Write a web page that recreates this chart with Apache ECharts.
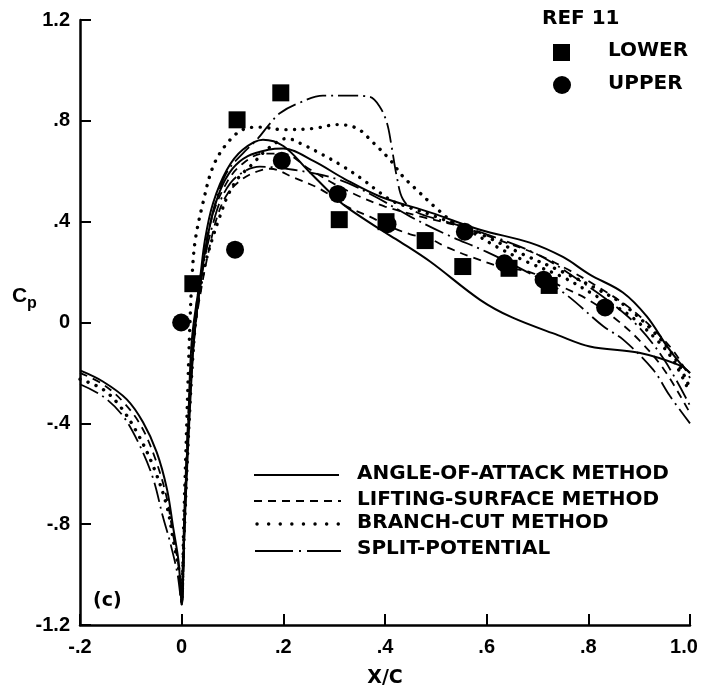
<!DOCTYPE html>
<html>
<head>
<meta charset="utf-8">
<script src="https://cdn.jsdelivr.net/npm/echarts@6/dist/echarts.min.js"></script>
<style>
  html, body { margin: 0; padding: 0; background: #fff; }
  #chart { width: 701px; height: 689px; }
</style>
</head>
<body>
<div id="chart"></div>
<script>
// tick labels
var xTicks = ['-.2', '0', '.2', '.4', '.6', '.8', '1.0']
var yTicks = ['-1.2', '-.8', '-.4', '0', '.4', '.8', '1.2']

// REF 11 measured points
var lowerPts = [[0.022, 0.154], [0.109, 0.804], [0.195, 0.911], [0.31, 0.408], [0.402, 0.40],
  [0.479, 0.325], [0.553, 0.222], [0.644, 0.215], [0.723, 0.147]]
var upperPts = [[-0.001, 0.0], [0.105, 0.289], [0.197, 0.642], [0.307, 0.51], [0.405, 0.39],
  [0.557, 0.36], [0.635, 0.235], [0.712, 0.17], [0.833, 0.06]]

// angle-of-attack method (solid)
var solidFront = [[-0.2, -0.19], [-0.155, -0.234], [-0.108, -0.305], [-0.076, -0.396], [-0.049, -0.515],
  [-0.029, -0.66], [-0.017, -0.81], [-0.006, -0.95], [0, -1.12]]
var solidA = [[0.006, -0.75], [0.013, -0.4], [0.02, -0.07], [0.036, 0.17], [0.046, 0.33], [0.062, 0.475],
  [0.089, 0.606], [0.12, 0.685], [0.16, 0.725], [0.2, 0.70], [0.25, 0.60], [0.305, 0.49], [0.33, 0.45],
  [0.39, 0.37], [0.43, 0.32], [0.49, 0.24], [0.587, 0.09], [0.65, 0.02], [0.74, -0.05], [0.803, -0.095],
  [0.9, -0.12], [0.98, -0.17], [1.0, -0.2]]
var solidB = [[0, -1.12], [0.008, -0.7], [0.016, -0.35], [0.025, -0.05], [0.04, 0.2], [0.055, 0.38],
  [0.075, 0.52], [0.1, 0.61], [0.13, 0.66], [0.17, 0.685], [0.2, 0.69], [0.26, 0.64], [0.32, 0.57],
  [0.39, 0.50], [0.49, 0.436], [0.587, 0.368], [0.685, 0.317], [0.75, 0.26], [0.803, 0.19],
  [0.868, 0.119], [0.915, 0.024], [0.955, -0.095], [0.98, -0.16], [1.0, -0.2]]

// lifting-surface method (dashed)
var dashFront = [[-0.2, -0.2], [-0.155, -0.245], [-0.115, -0.315], [-0.08, -0.41], [-0.052, -0.54],
  [-0.03, -0.69], [-0.017, -0.84], [-0.006, -0.97], [0, -1.11]]
var dashA = [[0.005, -0.8], [0.015, -0.35], [0.025, -0.05], [0.04, 0.15], [0.055, 0.3], [0.07, 0.42],
  [0.09, 0.51], [0.12, 0.57], [0.15, 0.60], [0.174, 0.61], [0.22, 0.575], [0.272, 0.53], [0.325, 0.46],
  [0.37, 0.42], [0.41, 0.38], [0.45, 0.35], [0.49, 0.33], [0.52, 0.30], [0.57, 0.26], [0.63, 0.22],
  [0.685, 0.20], [0.75, 0.14], [0.8, 0.09], [0.85, 0.02], [0.9, -0.07], [0.95, -0.19], [1.0, -0.36]]
var dashB = [[0, -1.11], [0.009, -0.6], [0.017, -0.25], [0.025, 0.0], [0.04, 0.22], [0.06, 0.42],
  [0.09, 0.56], [0.12, 0.63], [0.16, 0.67], [0.2, 0.67], [0.25, 0.61], [0.3, 0.55], [0.35, 0.5],
  [0.4, 0.46], [0.47, 0.42], [0.55, 0.38], [0.62, 0.33], [0.7, 0.27], [0.76, 0.21], [0.82, 0.14],
  [0.88, 0.06], [0.93, -0.03], [0.97, -0.12], [1.0, -0.22]]

// branch-cut method (dotted)
var dotFront = [[-0.2, -0.225], [-0.155, -0.265], [-0.121, -0.333], [-0.088, -0.436], [-0.056, -0.57],
  [-0.029, -0.73], [-0.016, -0.87], [-0.004, -1.0], [0, -1.1]]
var dotA = [[0.004, -0.8], [0.01, -0.4], [0.016, -0.02], [0.021, 0.2], [0.027, 0.33], [0.042, 0.475],
  [0.062, 0.62], [0.089, 0.71], [0.12, 0.765], [0.154, 0.775], [0.2, 0.765], [0.26, 0.77], [0.306, 0.785],
  [0.345, 0.77], [0.376, 0.715], [0.41, 0.645], [0.435, 0.58], [0.463, 0.525], [0.5, 0.455], [0.534, 0.4],
  [0.6, 0.34], [0.672, 0.27], [0.75, 0.2], [0.82, 0.13], [0.87, 0.07], [0.93, -0.04], [0.97, -0.14], [1.0, -0.26]]
var dotB = [[0, -1.1], [0.01, -0.6], [0.02, -0.2], [0.03, 0.05], [0.045, 0.22], [0.06, 0.33], [0.075, 0.42],
  [0.09, 0.5], [0.11, 0.57], [0.14, 0.63], [0.17, 0.69], [0.207, 0.73], [0.239, 0.705], [0.278, 0.665],
  [0.317, 0.62], [0.357, 0.566], [0.39, 0.515], [0.416, 0.48], [0.443, 0.46], [0.5, 0.42], [0.56, 0.37],
  [0.62, 0.3], [0.68, 0.24], [0.75, 0.18], [0.82, 0.1], [0.88, 0.03], [0.94, -0.08], [0.97, -0.16], [1.0, -0.28]]

// split-potential (dash-dot)
var ddFront = [[-0.2, -0.245], [-0.155, -0.293], [-0.115, -0.372], [-0.082, -0.49], [-0.056, -0.62],
  [-0.037, -0.77], [-0.023, -0.87], [-0.008, -1.0], [0, -1.12]]
var ddA = [[0.006, -0.8], [0.014, -0.4], [0.024, -0.08], [0.04, 0.2], [0.055, 0.38], [0.07, 0.5],
  [0.09, 0.6], [0.12, 0.67], [0.15, 0.73], [0.17, 0.78], [0.193, 0.83], [0.23, 0.87], [0.278, 0.9],
  [0.33, 0.9], [0.37, 0.895], [0.39, 0.855], [0.404, 0.79], [0.412, 0.71], [0.424, 0.57], [0.435, 0.49],
  [0.46, 0.44], [0.52, 0.4], [0.6, 0.35], [0.7, 0.27], [0.78, 0.17], [0.85, 0.07], [0.9, -0.02],
  [0.95, -0.15], [1.0, -0.33]]
var ddB = [[0, -1.12], [0.008, -0.6], [0.018, -0.2], [0.03, 0.05], [0.045, 0.25], [0.06, 0.38], [0.08, 0.5],
  [0.109, 0.58], [0.154, 0.618], [0.22, 0.606], [0.31, 0.566], [0.38, 0.5], [0.45, 0.42], [0.52, 0.35],
  [0.6, 0.28], [0.68, 0.2], [0.75, 0.12], [0.83, -0.016], [0.868, -0.067], [0.927, -0.186], [0.96, -0.29],
  [1.0, -0.4]]

var SOLID = { type: 'solid', width: 2 }
var DASH = { type: [8, 6], width: 1.8 }
var DOT = { type: [0.1, 8.5], width: 3.4, cap: 'round' }
var DASHDOT = { type: [20, 5, 2, 5], width: 1.8 }

function curve (data, style) {
  return {
    type: 'line',
    data: data,
    showSymbol: false,
    smooth: 0.35,
    lineStyle: Object.assign({ color: '#000' }, style),
    z: 2
  }
}

var tickFont = { fontFamily: 'Liberation Sans', fontWeight: 'bold', fontSize: 20, color: '#000' }
var legFont = 'bold 20px "DejaVu Sans"'

var myChart = echarts.init(document.getElementById('chart'))
myChart.setOption({
  animation: false,
  backgroundColor: '#fff',
  grid: { left: 80, right: 11, top: 20, bottom: 64, outerBoundsMode: 'none' },
  xAxis: {
    type: 'value',
    min: -0.2,
    max: 1.0,
    interval: 0.2,
    name: 'X/C',
    nameLocation: 'middle',
    nameGap: 44,
    nameTextStyle: { fontFamily: 'DejaVu Sans', fontWeight: 'bold', fontSize: 19, color: '#000' },
    axisLine: { onZero: false, lineStyle: { color: '#000', width: 2.5 } },
    axisTick: { inside: true, length: 11, lineStyle: { color: '#000', width: 2 } },
    axisLabel: Object.assign({
      margin: 12,
      formatter: function (v, i) {
        return i === xTicks.length - 1 ? '{last|' + xTicks[i] + '}' : xTicks[i]
      },
      rich: { last: Object.assign({ padding: [0, 12, 0, 0] }, tickFont) }
    }, tickFont),
    splitLine: { show: false }
  },
  yAxis: {
    type: 'value',
    min: -1.2,
    max: 1.2,
    interval: 0.4,
    axisLine: { onZero: false, lineStyle: { color: '#000', width: 2.5 } },
    axisTick: { inside: true, length: 11, lineStyle: { color: '#000', width: 2 } },
    axisLabel: Object.assign({ margin: 10, formatter: function (v, i) { return yTicks[i] } }, tickFont),
    splitLine: { show: false }
  },
  series: [
    curve(solidFront.concat(solidA), SOLID),
    curve(solidB, SOLID),
    curve(dashFront.concat(dashA), DASH),
    curve(dashB, DASH),
    curve(dotFront.concat(dotA), DOT),
    curve(dotB, DOT),
    curve(ddFront.concat(ddA), DASHDOT),
    curve(ddB, DASHDOT),
    {
      type: 'scatter',
      data: lowerPts,
      symbol: 'rect',
      symbolSize: 17,
      itemStyle: { color: '#000', opacity: 1 },
      z: 5
    },
    {
      type: 'scatter',
      data: upperPts,
      symbol: 'circle',
      symbolSize: 18,
      itemStyle: { color: '#000', opacity: 1 },
      z: 5
    }
  ],
  graphic: [
    // Cp label
    { type: 'text', left: 12, top: 286, style: { text: 'C', font: 'bold 21px "Liberation Sans"', fill: '#000' } },
    { type: 'text', left: 27, top: 296, style: { text: 'p', font: 'bold 16px "Liberation Sans"', fill: '#000' } },
    // (c)
    { type: 'text', left: 93, top: 592, style: { text: '(c)', font: 'bold 19px "DejaVu Sans"', fill: '#000' } },
    // REF 11 key
    { type: 'text', left: 542, top: 9, style: { text: 'REF 11', font: legFont, fill: '#000' } },
    { type: 'rect', shape: { x: 553, y: 44, width: 17, height: 17 }, style: { fill: '#000' } },
    { type: 'text', left: 608, top: 41, style: { text: 'LOWER', font: legFont, fill: '#000' } },
    { type: 'circle', shape: { cx: 562, cy: 85, r: 9 }, style: { fill: '#000' } },
    { type: 'text', left: 608, top: 74, style: { text: 'UPPER', font: legFont, fill: '#000' } },
    // method key
    { type: 'line', shape: { x1: 254, y1: 475, x2: 339, y2: 475 }, style: { stroke: '#000', lineWidth: 2 } },
    { type: 'line', shape: { x1: 254, y1: 501, x2: 341, y2: 501 }, style: { stroke: '#000', lineWidth: 1.8, lineDash: [8, 6] } },
    { type: 'line', shape: { x1: 257, y1: 524, x2: 341, y2: 524 }, style: { stroke: '#000', lineWidth: 3.4, lineDash: [0.1, 11.5], lineCap: 'round' } },
    { type: 'line', shape: { x1: 255, y1: 551, x2: 341, y2: 551 }, style: { stroke: '#000', lineWidth: 1.8, lineDash: [38, 6, 2, 6] } },
    { type: 'text', left: 357, top: 464, style: { text: 'ANGLE-OF-ATTACK METHOD', font: legFont, fill: '#000' } },
    { type: 'text', left: 357, top: 490, style: { text: 'LIFTING-SURFACE METHOD', font: legFont, fill: '#000' } },
    { type: 'text', left: 357, top: 513, style: { text: 'BRANCH-CUT METHOD', font: legFont, fill: '#000' } },
    { type: 'text', left: 357, top: 539, style: { text: 'SPLIT-POTENTIAL', font: legFont, fill: '#000' } }
  ]
})
</script>
</body>
</html>
